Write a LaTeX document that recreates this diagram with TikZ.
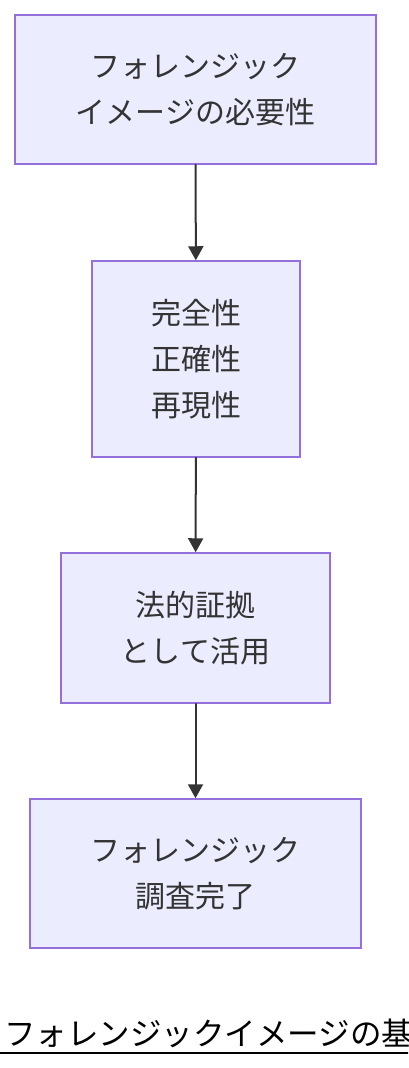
\documentclass[tikz,border=0pt]{standalone}
\usepackage{fontspec}
\setmainfont{Noto Sans CJK JP}
\usetikzlibrary{arrows.meta}
\definecolor{boxfill}{HTML}{ECECFF}
\definecolor{boxline}{HTML}{9370DB}
\definecolor{ink}{HTML}{333333}

\begin{document}
\begin{tikzpicture}[%
        x = 1pt,
        y = 1pt,
        line cap = round,
        > = {Triangle[length = 14pt, width = 15pt]},
        stagebox/.style = {draw = boxline, fill = boxfill, line width = 1.5pt,
            text = ink, align = center, inner sep = 0pt,
            font = \fontsize{30}{46}\selectfont},
        flow/.style = {->, draw = ink, line width = 2pt}
    ]

        % Fix the page to the size of the reference.
        \clip (0, 0) rectangle (408, -1068);

        % The four stages of the flow.
        \node[stagebox, minimum width = 361pt, minimum height = 149pt]
            (need) at (195.5, -89.5) {フォレンジック\\イメージの必要性};
        \node[stagebox, minimum width = 208pt, minimum height = 196pt]
            (props) at (196, -359) {完全性\\正確性\\再現性};
        \node[stagebox, minimum width = 269pt, minimum height = 150pt]
            (proof) at (195.5, -628) {法的証拠\\として活用};
        \node[stagebox, minimum width = 331pt, minimum height = 149pt]
            (done) at (195.5, -873.5) {フォレンジック\\調査完了};

        % Arrows between the stages.
        \draw[flow] (need) to (props);
        \draw[flow] (props) to (proof);
        \draw[flow] (proof) to (done);

        % Caption, cut off at the right edge.
        \node[anchor = base west, inner sep = 0pt, font = \fontsize{31.5}{36}\selectfont]
            (title) at (4, -1045) {フォレンジックイメージの基};
        \draw[line width = 2pt] (0, -1053) to (408, -1053);
    \end{tikzpicture}
\end{document}
